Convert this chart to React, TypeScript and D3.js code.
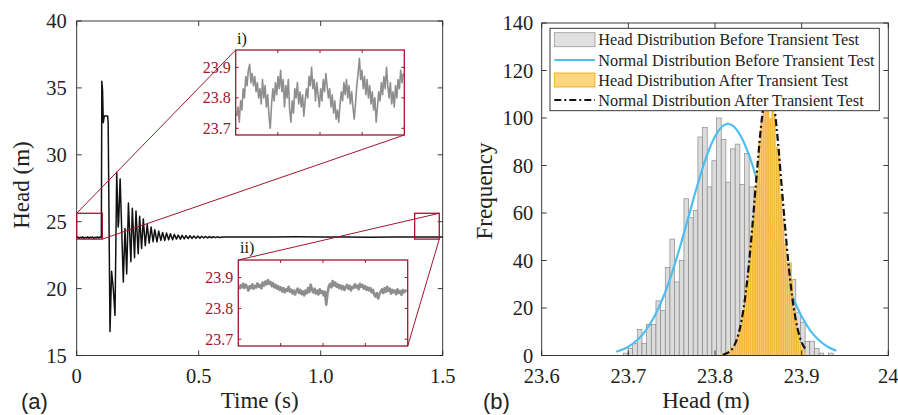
import React from "react";
import * as d3 from "d3";

// ---------- panel (a): head time series ----------
const timeTicks = [0, 0.5, 1.0, 1.5];
const timeTickLabels = ["0", "0.5", "1.0", "1.5"];
const headTicks = [15, 20, 25, 30, 35, 40];

// steady head before the valve closure (sampled every 5 ms)
const preStep = 0.005;
const preHead = [23.8, 23.86, 23.76, 23.84, 23.78, 23.88, 23.74, 23.83, 23.79, 23.87, 23.77,
  23.85, 23.8, 23.86, 23.75, 23.84, 23.79, 23.88, 23.78, 23.85, 23.82];

// transient extrema
const transientTime = [0.101, 0.103, 0.106, 0.109, 0.113, 0.127, 0.129, 0.1365, 0.143, 0.15, 0.157,
  0.164, 0.17, 0.172, 0.178, 0.191, 0.198, 0.205, 0.212, 0.222, 0.228, 0.237, 0.243, 0.252, 0.258,
  0.266, 0.273, 0.281, 0.289, 0.297, 0.305, 0.313, 0.32, 0.329, 0.336, 0.345, 0.352, 0.361, 0.368,
  0.377, 0.384, 0.393, 0.4, 0.409, 0.416, 0.425, 0.432, 0.441, 0.448, 0.457, 0.464, 0.473, 0.48,
  0.489, 0.496, 0.505, 0.512, 0.521, 0.528, 0.537, 0.544, 0.553, 0.56, 0.569, 0.576, 0.585];
const transientHead = [23.9, 35.5, 34.8, 32.4, 32.9, 32.9, 32.3, 16.8, 21.3, 20.0, 18.0,
  28.7, 24.6, 25.0, 28.2, 20.5, 24.5, 21.1, 26.4, 22.0, 26.0, 22.3, 25.8, 22.6, 25.4,
  23.0, 25.2, 23.2, 24.8, 23.4, 24.6, 23.5, 24.4, 23.5, 24.3, 23.6, 24.2, 23.6, 24.15,
  23.65, 24.1, 23.65, 24.05, 23.7, 24.0, 23.7, 23.98, 23.72, 23.96, 23.74, 23.95, 23.75, 23.93,
  23.76, 23.92, 23.77, 23.91, 23.78, 23.9, 23.79, 23.89, 23.8, 23.88, 23.81, 23.87, 23.82];

const steadyTime = [0.6, 0.7, 0.8, 0.9, 1.0, 1.1, 1.2, 1.3, 1.4, 1.5];
const steadyHead = [23.85, 23.86, 23.85, 23.87, 23.85, 23.86, 23.84, 23.86, 23.85, 23.86];

// zoom windows (time, head)
const zoomI = { t0: 0, t1: 0.105, h0: 23.7, h1: 25.63 };
const zoomII = { t0: 1.385, t1: 1.486, h0: 23.7, h1: 25.63 };

// inset traces
const insetTicks = [23.7, 23.8, 23.9];
const insetIHead = [
  23.74, 23.77, 23.72, 23.79, 23.76, 23.83, 23.8, 23.87, 23.84, 23.89,
  23.91, 23.85, 23.88, 23.84, 23.87, 23.82, 23.85, 23.8, 23.83, 23.78,
  23.86, 23.8, 23.84, 23.77, 23.81, 23.74, 23.7, 23.78, 23.83, 23.79,
  23.85, 23.81, 23.87, 23.83, 23.89, 23.82, 23.86, 23.77, 23.84, 23.8,
  23.86, 23.76, 23.72, 23.79, 23.75, 23.83, 23.8, 23.85, 23.78, 23.82,
  23.77, 23.81, 23.74, 23.79, 23.83, 23.8, 23.87, 23.84, 23.9, 23.83,
  23.86, 23.79, 23.85, 23.81, 23.77, 23.83, 23.79, 23.86, 23.82, 23.88,
  23.84, 23.8, 23.83, 23.77, 23.81, 23.75, 23.79, 23.73, 23.76, 23.72,
  23.78, 23.82, 23.79, 23.85, 23.81, 23.86, 23.8, 23.84, 23.78, 23.82,
  23.77, 23.73, 23.78, 23.84, 23.88, 23.93, 23.86, 23.89, 23.83, 23.87,
  23.81, 23.86, 23.8, 23.84, 23.78, 23.82, 23.76, 23.8, 23.72, 23.77,
  23.82, 23.79, 23.85, 23.81, 23.87, 23.83, 23.9, 23.84, 23.8, 23.85,
  23.78, 23.82, 23.77, 23.84, 23.8, 23.86, 23.83, 23.89, 23.85, 23.88];
const insetIIHead = [
  23.862, 23.875, 23.868, 23.88, 23.866, 23.877, 23.87, 23.858, 23.872, 23.866,
  23.878, 23.864, 23.873, 23.868, 23.881, 23.87, 23.876, 23.865, 23.884, 23.874,
  23.887, 23.878, 23.892, 23.88, 23.886, 23.872, 23.882, 23.868, 23.876, 23.864,
  23.872, 23.86, 23.868, 23.855, 23.866, 23.852, 23.862, 23.857, 23.87, 23.854,
  23.861, 23.848, 23.858, 23.845, 23.856, 23.864, 23.85, 23.86, 23.846, 23.855,
  23.842, 23.858, 23.849, 23.866, 23.853, 23.877, 23.86, 23.852, 23.864, 23.848,
  23.858, 23.845, 23.862, 23.85, 23.856, 23.842, 23.854, 23.812, 23.85, 23.872,
  23.88, 23.868, 23.889, 23.874, 23.884, 23.87, 23.878, 23.866, 23.875, 23.862,
  23.872, 23.86, 23.868, 23.876, 23.864, 23.873, 23.858, 23.87, 23.866, 23.878,
  23.868, 23.874, 23.862, 23.88, 23.87, 23.876, 23.864, 23.872, 23.86, 23.868,
  23.858, 23.866, 23.852, 23.86, 23.845, 23.838, 23.85, 23.832, 23.846, 23.855,
  23.862, 23.85, 23.866, 23.854, 23.87, 23.857, 23.864, 23.848, 23.86, 23.852,
  23.858, 23.846, 23.862, 23.85, 23.856, 23.844, 23.86, 23.852, 23.858, 23.855];

// ---------- panel (b): histograms ----------
const headBinTicks = [23.6, 23.7, 23.8, 23.9, 24];
const headBinLabels = ["23.6", "23.7", "23.8", "23.9", "24"];
const freqTicks = [0, 20, 40, 60, 80, 100, 120, 140];

const beforeBinStart = 23.6942;
const beforeBinWidth = 0.00538;
const beforeCounts = [1, 3, 5, 11, 5, 13, 13, 23, 19, 37, 49, 31, 40, 66, 58, 61, 92, 96, 71, 82,
  100, 91, 73, 87, 89, 72, 85, 71, 62, 60, 55, 50, 46, 42, 40, 39, 32, 18, 14, 6, 6, 3, 1, 0, 1];

const afterBinStart = 23.8075;
const afterBinWidth = 0.0025;
const afterCounts = [1, 0, 1, 2, 3, 4, 5, 8, 12, 17, 21, 30, 36, 47, 56, 70, 78, 90, 98, 104,
  112, 116, 100, 109, 102, 88, 87, 68, 58, 47, 39, 39, 32, 20, 15, 9, 5, 3, 1];

const normBeforeX = [23.686, 23.7, 23.71, 23.72, 23.73, 23.74, 23.75, 23.76, 23.77, 23.78, 23.79, 23.8,
  23.81, 23.815, 23.82, 23.83, 23.84, 23.85, 23.86, 23.87, 23.88, 23.89, 23.9, 23.91, 23.92, 23.93, 23.94];
const normBeforeY = [1.6, 3.7, 6.4, 10.5, 16.4, 24.3, 34.4, 46.2, 59.1, 72.1, 83.6, 92.2,
  96.9, 97.5, 96.9, 92.2, 83.6, 72.1, 59.1, 46.2, 34.4, 24.3, 16.4, 10.5, 6.4, 3.7, 2.0];

const normAfterX = [23.809, 23.813, 23.817, 23.821, 23.825, 23.829, 23.833, 23.837, 23.841, 23.845,
  23.849, 23.853, 23.857, 23.861, 23.865, 23.869, 23.873, 23.877, 23.881, 23.885, 23.889, 23.893,
  23.897, 23.901, 23.905];
const normAfterY = [0.3, 0.8, 1.7, 3.4, 6.6, 11.8, 19.8, 31, 45.5, 62.5, 80, 96, 108, 114, 112, 103,
  88.6, 71, 53.8, 37.9, 25, 15.4, 8.9, 4.8, 2.4];

const legendLabels = [
  "Head Distribution Before Transient Test",
  "Normal Distribution Before Transient Test",
  "Head Distribution After Transient Test",
  "Normal Distribution After Transient Test",
];

const SERIF = "'Liberation Serif', 'Times New Roman', serif";
const SANS = "'Liberation Sans', Arial, sans-serif";
const AX = "#262626";
const RED = "#A2142F";

function Frame({ x0, x1, y0, y1, xs, ys, xt, yt, len }: any) {
  return (
    <g stroke={AX} strokeWidth={0.9} fill="none">
      <rect x={x0} y={y0} width={x1 - x0} height={y1 - y0} />
      {xt.map((t: number, i: number) => (
        <g key={"x" + i}>
          <line x1={xs(t)} x2={xs(t)} y1={y1} y2={y1 - len} />
          <line x1={xs(t)} x2={xs(t)} y1={y0} y2={y0 + len} />
        </g>
      ))}
      {yt.map((t: number, i: number) => (
        <g key={"y" + i}>
          <line x1={x0} x2={x0 + len} y1={ys(t)} y2={ys(t)} />
          <line x1={x1} x2={x1 - len} y1={ys(t)} y2={ys(t)} />
        </g>
      ))}
    </g>
  );
}

function Inset({ box, data, label, labelPos, width }: any) {
  const ix = d3.scaleLinear().domain([0, data.length - 1]).range([box.x0 + 1, box.x1 - 1]);
  const iy = d3.scaleLinear().domain([23.678, 23.957]).range([box.y1, box.y0]);
  const line = d3.line<number>().x((_, i) => ix(i)).y((d) => iy(d));
  const qx = d3.range(1, 4).map((k) => box.x0 + ((box.x1 - box.x0) * k) / 4);
  return (
    <g>
      <rect x={box.x0} y={box.y0} width={box.x1 - box.x0} height={box.y1 - box.y0} fill="#fff" />
      <path d={line(data) || ""} fill="none" stroke="#8e8e8e" strokeWidth={width} strokeLinejoin="round" />
      <g stroke={RED} strokeWidth={1}>
        {qx.map((x, i) => (
          <g key={i}>
            <line x1={x} x2={x} y1={box.y0} y2={box.y0 + 3} />
            <line x1={x} x2={x} y1={box.y1} y2={box.y1 - 3} />
          </g>
        ))}
        {insetTicks.map((t, i) => (
          <g key={"t" + i}>
            <line x1={box.x0} x2={box.x0 + 3} y1={iy(t)} y2={iy(t)} />
            <line x1={box.x1} x2={box.x1 - 3} y1={iy(t)} y2={iy(t)} />
          </g>
        ))}
      </g>
      <rect x={box.x0} y={box.y0} width={box.x1 - box.x0} height={box.y1 - box.y0}
        fill="none" stroke={RED} strokeWidth={1.3} />
      {insetTicks.map((t, i) => (
        <text key={i} x={box.x0 - 5} y={iy(t)} dy="0.35em" textAnchor="end"
          fontFamily={SERIF} fontSize={16} fill={RED}>{t.toFixed(1)}</text>
      ))}
      <text x={labelPos[0]} y={labelPos[1]} fontFamily={SERIF} fontSize={16} fill="#111">{label}</text>
    </g>
  );
}

export default function App() {
  // panel (a)
  const ax0 = 76.7, ax1 = 442.7, ay0 = 21, ay1 = 355.5;
  const lx = d3.scaleLinear().domain([0, 1.5]).range([ax0, ax1]);
  const ly = d3.scaleLinear().domain([15, 40]).range([ay1, ay0]);

  const trace: [number, number][] = [
    ...preHead.map((h, i) => [i * preStep, h] as [number, number]),
    ...transientTime.map((t, i) => [t, transientHead[i]] as [number, number]),
    ...steadyTime.map((t, i) => [t, steadyHead[i]] as [number, number]),
  ];
  const traceLine = d3.line<[number, number]>().x((d) => lx(d[0])).y((d) => ly(d[1]));

  const insetIBox = { x0: 235.7, x1: 404.3, y0: 50, y1: 135 };
  const insetIIBox = { x0: 238.3, x1: 407.7, y0: 260, y1: 346 };

  // panel (b)
  const bx0 = 541.7, bx1 = 888.3, by0 = 23, by1 = 355.5;
  const hx = d3.scaleLinear().domain([23.6, 24]).range([bx0, bx1]);
  const hy = d3.scaleLinear().domain([0, 140]).range([by1, by0]);
  const blueD = d3.line<number>().curve(d3.curveMonotoneX)
    .x((_, i) => hx(normBeforeX[i])).y((d) => hy(d))(normBeforeY) || "";
  const blackD = d3.line<number>().curve(d3.curveMonotoneX)
    .x((_, i) => hx(normAfterX[i])).y((d) => hy(d))(normAfterY) || "";

  const leg = { x0: 550, x1: 879.3, y0: 28.3, y1: 110.7 };
  const legRows = [39.7, 60, 80, 100];

  return (
    <svg width={898} height={415} style={{ position: "absolute", left: 0, top: 0, background: "#fff" }}>
      {/* ---------------- panel (a) ---------------- */}
      <path d={traceLine(trace) || ""} fill="none" stroke="#111" strokeWidth={1.5} strokeLinejoin="round" />
      <Frame x0={ax0} x1={ax1} y0={ay0} y1={ay1} xs={lx} ys={ly} xt={timeTicks} yt={headTicks} len={5} />
      {[zoomI, zoomII].map((z, i) => (
        <rect key={i} x={lx(z.t0)} y={ly(z.h1)} width={lx(z.t1) - lx(z.t0)} height={ly(z.h0) - ly(z.h1)}
          fill="none" stroke={RED} strokeWidth={1.3} />
      ))}
      <g stroke={RED} strokeWidth={1}>
        <line x1={lx(zoomI.t0)} y1={ly(zoomI.h1)} x2={insetIBox.x0} y2={insetIBox.y0} />
        <line x1={lx(zoomI.t1)} y1={ly(zoomI.h0)} x2={insetIBox.x1} y2={insetIBox.y1} />
        <line x1={lx(zoomII.t1)} y1={ly(zoomII.h1)} x2={insetIIBox.x0} y2={insetIIBox.y0} />
        <line x1={lx(zoomII.t1)} y1={ly(zoomII.h0)} x2={insetIIBox.x1} y2={insetIIBox.y1} />
      </g>
      <Inset box={insetIBox} data={insetIHead} label="i)" labelPos={[237, 44]} width={1.6} />
      <Inset box={insetIIBox} data={insetIIHead} label="ii)" labelPos={[240, 253]} width={2.6} />

      <g fontFamily={SERIF} fontSize={20.5} fill="#222">
        {headTicks.map((t) => (
          <text key={t} x={ax0 - 10} y={ly(t)} dy="0.35em" textAnchor="end">{t}</text>
        ))}
        {timeTicks.map((t, i) => (
          <text key={t} x={lx(t)} y={383} textAnchor="middle">{timeTickLabels[i]}</text>
        ))}
      </g>
      <text x={259.7} y={408} textAnchor="middle" fontFamily={SERIF} fontSize={23} fill="#222">Time (s)</text>
      <text transform="translate(28.5,185) rotate(-90)" textAnchor="middle" fontFamily={SERIF}
        fontSize={23} fill="#222">Head (m)</text>
      <text x={21} y={409} fontFamily={SANS} fontSize={22} fill="#222">(a)</text>

      {/* ---------------- panel (b) ---------------- */}
      <g fill="#dcdcdc" stroke="#8a8a8a" strokeWidth={0.7}>
        {beforeCounts.map((c, k) => {
          const a = hx(beforeBinStart + k * beforeBinWidth);
          const b = hx(beforeBinStart + (k + 1) * beforeBinWidth);
          return c > 0 ? <rect key={k} x={a} y={hy(c)} width={b - a} height={hy(0) - hy(c)} /> : null;
        })}
      </g>
      <path d={blueD} fill="none" stroke="#4DBEEE" strokeWidth={2.2} />
      <g fill="#f1b736" stroke="#f9d488" strokeWidth={0.5}>
        {afterCounts.map((c, k) => {
          const a = hx(afterBinStart + k * afterBinWidth);
          const b = hx(afterBinStart + (k + 1) * afterBinWidth);
          return c > 0 ? <rect key={k} x={a} y={hy(c)} width={b - a} height={hy(0) - hy(c)} /> : null;
        })}
      </g>
      <path d={blackD} fill="none" stroke="#111" strokeWidth={2.2} strokeDasharray="7,3,2,3" />
      <Frame x0={bx0} x1={bx1} y0={by0} y1={by1} xs={hx} ys={hy} xt={headBinTicks} yt={freqTicks} len={5} />

      {/* legend */}
      <rect x={leg.x0} y={leg.y0} width={leg.x1 - leg.x0} height={leg.y1 - leg.y0} fill="#fff"
        stroke={AX} strokeWidth={0.9} />
      <rect x={554.3} y={legRows[0] - 7} width={40.7} height={14} fill="#e0e0e2" stroke="#999" strokeWidth={0.8} />
      <line x1={554.3} x2={595} y1={legRows[1]} y2={legRows[1]} stroke="#4DBEEE" strokeWidth={2.2} />
      <rect x={554.3} y={legRows[2] - 7} width={40.7} height={14} fill="#fcd77f" stroke="#f0a30a" strokeWidth={0.8} />
      <line x1={554.3} x2={595} y1={legRows[3]} y2={legRows[3]} stroke="#111" strokeWidth={2.2}
        strokeDasharray="7,3,2,3" />
      {legendLabels.map((l, i) => (
        <text key={i} x={598.3} y={legRows[i]} dy="0.35em" fontFamily={SERIF} fontSize={16.3} fill="#222">{l}</text>
      ))}

      <g fontFamily={SERIF} fontSize={20.5} fill="#222">
        {freqTicks.map((t) => (
          <text key={t} x={bx0 - 8.5} y={hy(t)} dy="0.35em" textAnchor="end">{t}</text>
        ))}
        {headBinTicks.map((t, i) => (
          <text key={t} x={hx(t)} y={383} textAnchor="middle">{headBinLabels[i]}</text>
        ))}
      </g>
      <text x={706} y={408} textAnchor="middle" fontFamily={SERIF} fontSize={23} fill="#222">Head (m)</text>
      <text transform="translate(491.5,191) rotate(-90)" textAnchor="middle" fontFamily={SERIF}
        fontSize={23} fill="#222">Frequency</text>
      <text x={483} y={409} fontFamily={SANS} fontSize={22} fill="#222">(b)</text>
    </svg>
  );
}
